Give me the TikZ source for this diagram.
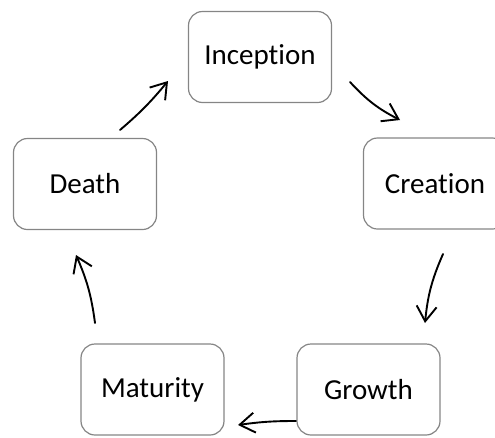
\documentclass[tikz,border=0pt]{standalone}
\usepackage{fontspec}
\setmainfont[Ligatures=NoCommon]{Carlito}
\usetikzlibrary{arrows.meta}
\definecolor{boxgray}{HTML}{858585}
\begin{document}
\begin{tikzpicture}[x=1pt,y=-1pt,
  stage/.style={draw=boxgray, line width=1.2pt, rounded corners=14pt,
    minimum width=143pt, minimum height=91pt, inner sep=0pt,
    font=\fontsize{29}{35}\selectfont},
  flow/.style={line width=1.9pt, line cap=round, line join=round,
    -{Straight Barb[length=15pt,width=20pt]}}]
\useasboundingbox (0,0) rectangle (495,437);
\clip (0,0) rectangle (495,437);

% life-cycle stages
\node[stage] (inception) at (260,57)    {Inception};
\node[stage] (creation)  at (435,183.5) {Creation};
\node[stage] (growth)    at (368.5,389.5) {Growth};
\node[stage] (maturity)  at (152.5,389.5) {Maturity};
\node[stage] (death)     at (85,184)    {Death};

% free-standing arrow end points between the stages
\coordinate (a1s) at (120,130); \coordinate (a1e) at (168,81);
\coordinate (a2s) at (350,82);  \coordinate (a2e) at (400,120);
\coordinate (a3s) at (443,254); \coordinate (a3e) at (425,323);
\coordinate (a4s) at (296,421); \coordinate (a4e) at (238,425);
\coordinate (a5s) at (95,323);  \coordinate (a5e) at (76,255);

\draw[flow] (a1s) to[bend right=5]  (a1e);
\draw[flow] (a2s) to[bend right=10] (a2e);
\draw[flow] (a3s) to[bend right=9]  (a3e);
\draw[flow] (a4s) to[bend right=4]  (a4e);
\draw[flow] (a5s) to[bend right=8]  (a5e);
\end{tikzpicture}
\end{document}
